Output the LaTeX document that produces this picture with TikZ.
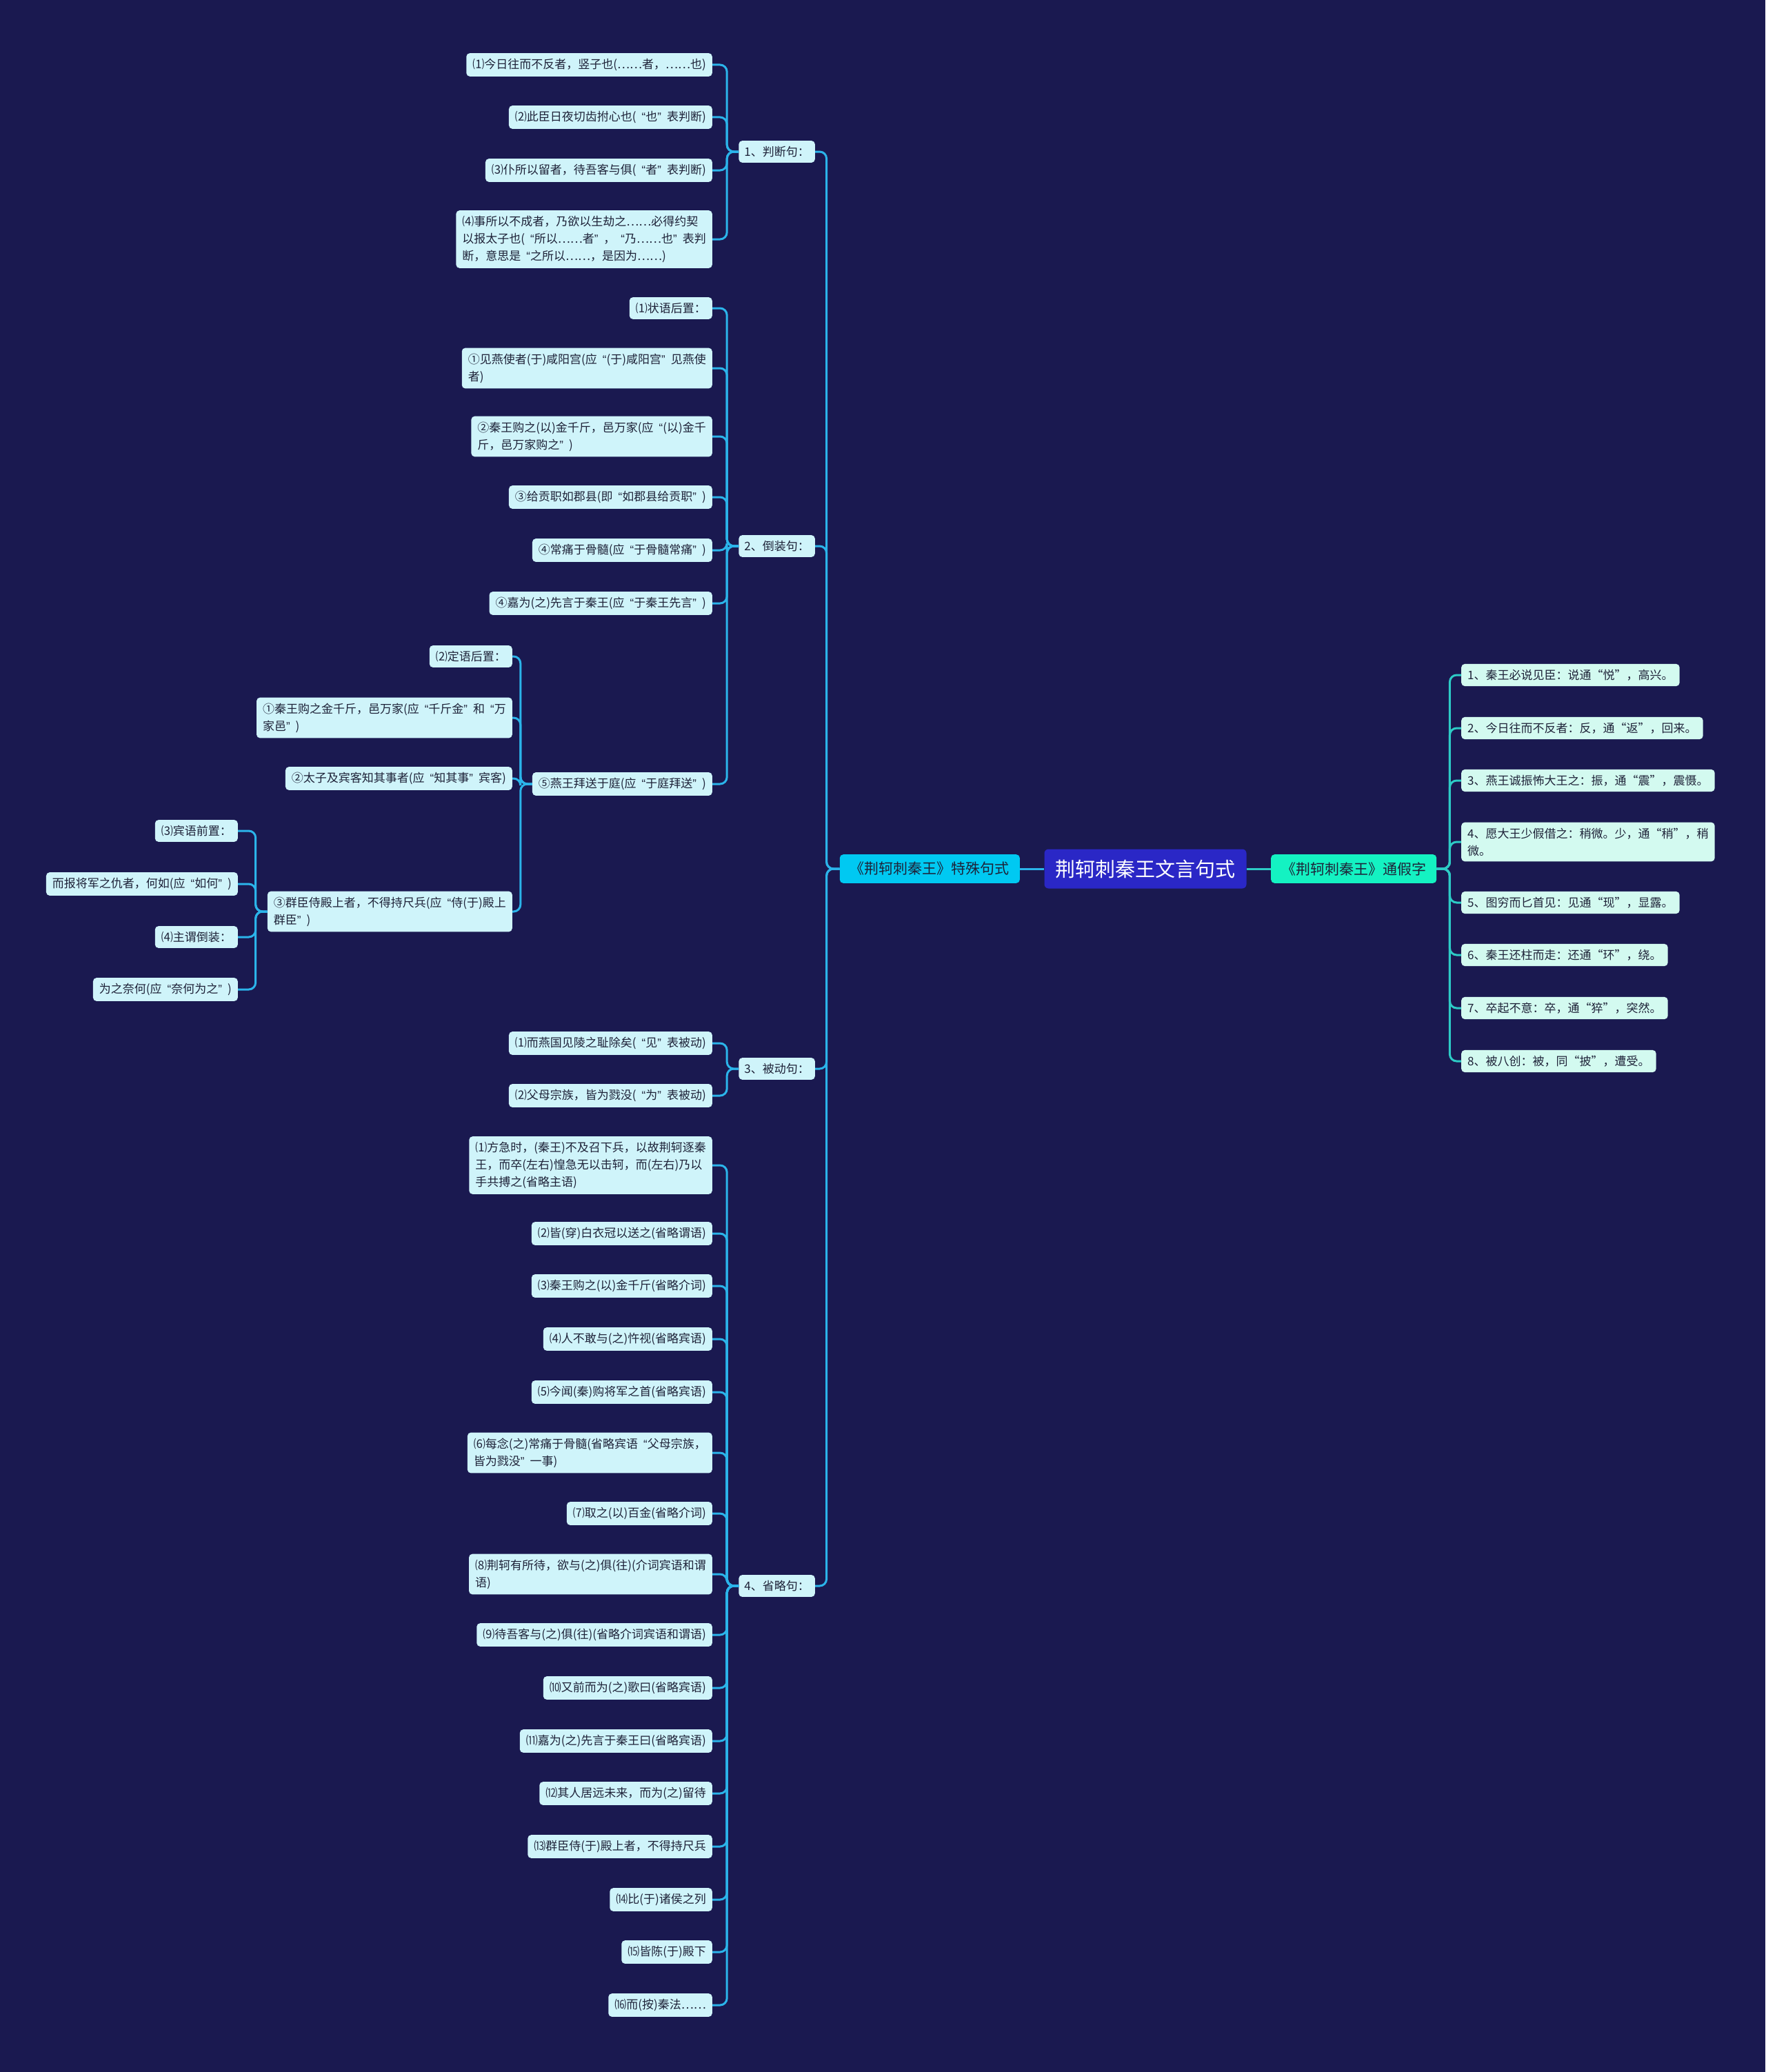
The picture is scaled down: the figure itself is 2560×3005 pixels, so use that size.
\documentclass[tikz,border=0pt]{standalone}
\usepackage{fontspec}
\setmainfont{Noto Sans CJK SC}
\newfontfamily\qfont{Liberation Sans}
\usetikzlibrary{positioning}
\definecolor{cBg}{HTML}{1A1950}
\definecolor{cRoot}{HTML}{2A27C6}
\definecolor{cLeft}{HTML}{00C9F2}
\definecolor{cRight}{HTML}{14F2C2}
\definecolor{cLeafL}{HTML}{CFF4FA}
\definecolor{cLeafR}{HTML}{D3FAF0}
\definecolor{cLineL}{HTML}{2BB4EA}
\definecolor{cLineR}{HTML}{2DCBC6}
\definecolor{cInk}{HTML}{1E2238}
% curly quotes: narrow on the left side, full width on the right
\newif\ifwideq
\catcode`“=\active
\catcode`”=\active
\def“{\ifwideq\char"201C\else\kern8pt{\qfont\char"201C}\fi}
\def”{\ifwideq\char"201D\else{\qfont\char"201D}\kern8pt\fi}

\begin{document}
\begin{tikzpicture}[x=1pt,y=-1pt,
    leaf/.style={fill=cLeafL,text=cInk,rounded corners=5pt,align=left,
      inner xsep=9pt,inner ysep=8pt,font=\fontsize{17}{25}\selectfont},
    leafR/.style={leaf,fill=cLeafR,font=\fontsize{17}{25}\selectfont\wideqtrue},
    cat/.style={leaf,inner xsep=8pt},
    branch/.style={rounded corners=5pt,text=cInk,inner xsep=15pt,inner ysep=11pt,
      font=\fontsize{21}{25}\selectfont},
    root/.style={fill=cRoot,text=white,rounded corners=6pt,inner xsep=16pt,
      inner ysep=15pt,font=\fontsize{29}{33}\selectfont},
    linkL/.style={draw=cLineL,line width=3pt,rounded corners=10pt},
    linkR/.style={draw=cLineR,line width=3pt,rounded corners=10pt}]
  \fill[cBg] (0,0) rectangle (2560,3005);
  \useasboundingbox (0,0) rectangle (2560,3005);

  % centre and the two branches
  \node[root] (root) at (1661,1260) {荆轲刺秦王文言句式};
  \node[branch,fill=cLeft,anchor=east] (lb) at (1479,1260) {《荆轲刺秦王》特殊句式};
  \node[branch,fill=cRight,anchor=west] (rb) at (1843,1260) {《荆轲刺秦王》通假字};
  \draw[linkL] (root) -- (lb);
  \draw[linkR] (root) -- (rb);

  % left: the four kinds of sentence
  \node[cat,anchor=east] (cat1) at (1182,220) {1、判断句：};
  \node[cat,anchor=east] (cat2) at (1182,792) {2、倒装句：};
  \node[cat,anchor=east] (cat3) at (1182,1550) {3、被动句：};
  \node[cat,anchor=east] (cat4) at (1182,2300) {4、省略句：};
  \foreach \i in {1,...,4}
    \draw[linkL] (lb.west) -- ++(-19,0) |- (cat\i.east);

  % 1
  \node[leaf,anchor=east] (jd1) at (1033,94) {⑴今日往而不反者，竖子也(……者，……也)};
  \node[leaf,anchor=east] (jd2) at (1033,170) {⑵此臣日夜切齿拊心也(“也”表判断)};
  \node[leaf,anchor=east] (jd3) at (1033,247) {⑶仆所以留者，待吾客与俱(“者”表判断)};
  \node[leaf,anchor=east] (jd4) at (1033,347) {⑷事所以不成者，乃欲以生劫之……必得约契\\以报太子也(“所以……者”，“乃……也”表判\\断，意思是“之所以……，是因为……)};
  \foreach \i in {1,...,4}
    \draw[linkL] (cat1.west) -- ++(-17,0) |- (jd\i.east);

  % 2
  \node[leaf,anchor=east] (inv1) at (1033,447) {⑴状语后置：};
  \node[leaf,anchor=east] (inv2) at (1033,534) {①见燕使者(于)咸阳宫(应“(于)咸阳宫”见燕使\\者)};
  \node[leaf,anchor=east] (inv3) at (1033,633) {②秦王购之(以)金千斤，邑万家(应“(以)金千\\斤，邑万家购之”)};
  \node[leaf,anchor=east] (inv4) at (1033,721) {③给贡职如郡县(即“如郡县给贡职”)};
  \node[leaf,anchor=east] (inv5) at (1033,798) {④常痛于骨髓(应“于骨髓常痛”)};
  \node[leaf,anchor=east] (inv6) at (1033,875) {④嘉为(之)先言于秦王(应“于秦王先言”)};
  \node[leaf,anchor=east] (inv7) at (1033,1137) {⑤燕王拜送于庭(应“于庭拜送”)};
  \foreach \i in {1,...,7}
    \draw[linkL] (cat2.west) -- ++(-17,0) |- (inv\i.east);

  \node[leaf,anchor=east] (att1) at (743,952) {⑵定语后置：};
  \node[leaf,anchor=east] (att2) at (743,1041) {①秦王购之金千斤，邑万家(应“千斤金”和“万\\家邑”)};
  \node[leaf,anchor=east] (att3) at (743,1129) {②太子及宾客知其事者(应“知其事”宾客)};
  \node[leaf,anchor=east] (att4) at (743,1322) {③群臣侍殿上者，不得持尺兵(应“侍(于)殿上\\群臣”)};
  \foreach \i in {1,...,4}
    \draw[linkL] (inv7.west) -- ++(-17,0) |- (att\i.east);

  \node[leaf,anchor=east] (obj1) at (345,1205) {⑶宾语前置：};
  \node[leaf,anchor=east] (obj2) at (345,1282) {而报将军之仇者，何如(应“如何”)};
  \node[leaf,anchor=east] (obj3) at (345,1359) {⑷主谓倒装：};
  \node[leaf,anchor=east] (obj4) at (345,1435) {为之奈何(应“奈何为之”)};
  \foreach \i in {1,...,4}
    \draw[linkL] (att4.west) -- ++(-17,0) |- (obj\i.east);

  % 3
  \node[leaf,anchor=east] (ps1) at (1033,1513) {⑴而燕国见陵之耻除矣(“见”表被动)};
  \node[leaf,anchor=east] (ps2) at (1033,1589) {⑵父母宗族，皆为戮没(“为”表被动)};
  \foreach \i in {1,2}
    \draw[linkL] (cat3.west) -- ++(-17,0) |- (ps\i.east);

  % 4
  \foreach \i/\y/\t in {
      1/1690/{⑴方急时，(秦王)不及召下兵，以故荆轲逐秦\\王，而卒(左右)惶急无以击轲，而(左右)乃以\\手共搏之(省略主语)},
      2/1789/{⑵皆(穿)白衣冠以送之(省略谓语)},
      3/1865/{⑶秦王购之(以)金千斤(省略介词)},
      4/1942/{⑷人不敢与(之)忤视(省略宾语)},
      5/2019/{⑸今闻(秦)购将军之首(省略宾语)},
      6/2107/{⑹每念(之)常痛于骨髓(省略宾语“父母宗族，\\皆为戮没”一事)},
      7/2195/{⑺取之(以)百金(省略介词)},
      8/2283/{⑻荆轲有所待，欲与(之)俱(往)(介词宾语和谓\\语)},
      9/2371/{⑼待吾客与(之)俱(往)(省略介词宾语和谓语)},
      10/2448/{⑽又前而为(之)歌曰(省略宾语)},
      11/2525/{⑾嘉为(之)先言于秦王曰(省略宾语)},
      12/2601/{⑿其人居远未来，而为(之)留待},
      13/2678/{⒀群臣侍(于)殿上者，不得持尺兵},
      14/2755/{⒁比(于)诸侯之列},
      15/2831/{⒂皆陈(于)殿下},
      16/2908/{⒃而(按)秦法……}}
    \node[leaf,anchor=east] (om\i) at (1033,\y) {\t};
  \foreach \i in {1,...,16}
    \draw[linkL] (cat4.west) -- ++(-17,0) |- (om\i.east);

  % right: borrowed characters
  \node[leafR,anchor=west] (tj1) at (2119,979) {1、秦王必说见臣：说通“悦”，高兴。};
  \node[leafR,anchor=west] (tj2) at (2119,1056) {2、今日往而不反者：反，通“返”，回来。};
  \node[leafR,anchor=west] (tj3) at (2119,1132) {3、燕王诚振怖大王之：振，通“震”，震慑。};
  \node[leafR,anchor=west] (tj4) at (2119,1221) {4、愿大王少假借之：稍微。少，通“稍”，稍\\微。};
  \node[leafR,anchor=west] (tj5) at (2119,1309) {5、图穷而匕首见：见通“现”，显露。};
  \node[leafR,anchor=west] (tj6) at (2119,1385) {6、秦王还柱而走：还通“环”，绕。};
  \node[leafR,anchor=west] (tj7) at (2119,1462) {7、卒起不意：卒，通“猝”，突然。};
  \node[leafR,anchor=west] (tj8) at (2119,1539) {8、被八创：被，同“披”，遭受。};
  \foreach \i in {1,...,8}
    \draw[linkR] (rb.east) -- ++(19,0) |- (tj\i.west);
\end{tikzpicture}
\end{document}
